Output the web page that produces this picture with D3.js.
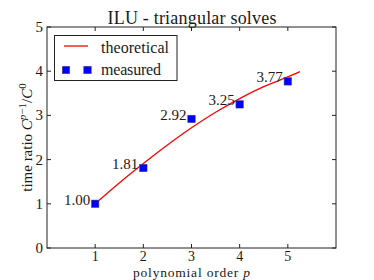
<!DOCTYPE html>
<html><head><meta charset="utf-8">
<script src="https://cdn.jsdelivr.net/npm/d3@7"></script>
<style>body{margin:0;background:#fff}svg{display:block}text{font-family:"Liberation Serif","DejaVu Serif",serif;fill:#1a1a1a}</style>
</head><body>
<script>
const orders = [1, 2, 3, 4, 5];
const measured = [1.00, 1.81, 2.92, 3.25, 3.77];
const measuredLabels = ["1.00", "1.81", "2.92", "3.25", "3.77"];
const theoryP = [1, 1.5, 2, 2.5, 3, 3.5, 4, 4.5, 5, 5.25];
const theoryR = [1, 1.47, 1.91, 2.33, 2.72, 3.07, 3.38, 3.65, 3.87, 3.99];
const xTicks = [1, 2, 3, 4, 5];
const yTicks = [0, 1, 2, 3, 4, 5];

const W = 374, H = 280;
const m = {l: 47, r: 38, t: 27, b: 32};
const svg = d3.select("body").append("svg").attr("width", W).attr("height", H);
const x = d3.scaleLinear().domain([0, 6]).range([m.l, W - m.r]);
const y = d3.scaleLinear().domain([0, 5]).range([H - m.b, m.t]);

// frame
svg.append("rect").attr("x", x(0)).attr("y", y(5)).attr("width", x(6) - x(0)).attr("height", y(0) - y(5))
  .attr("fill", "none").attr("stroke", "#222").attr("stroke-width", 1);

const tl = 4;
const g = svg.append("g");
xTicks.forEach(v => {
  g.append("line").attr("x1", x(v)).attr("x2", x(v)).attr("y1", y(0)).attr("y2", y(0) - tl).attr("stroke", "#222");
  g.append("line").attr("x1", x(v)).attr("x2", x(v)).attr("y1", y(5)).attr("y2", y(5) + tl).attr("stroke", "#222");
  g.append("text").attr("x", x(v)).attr("y", y(0) + 13).attr("text-anchor", "middle").attr("font-size", 14).text(v);
});
yTicks.forEach(v => {
  g.append("line").attr("x1", x(0)).attr("x2", x(0) + tl).attr("y1", y(v)).attr("y2", y(v)).attr("stroke", "#222");
  g.append("line").attr("x1", x(6)).attr("x2", x(6) - tl).attr("y1", y(v)).attr("y2", y(v)).attr("stroke", "#222");
  g.append("text").attr("x", x(0) - 4).attr("y", y(v) + 5).attr("text-anchor", "end").attr("font-size", 15).text(v);
});

// theoretical line
const line = d3.line().x((d, i) => x(theoryP[i])).y(d => y(d)).curve(d3.curveMonotoneX);
svg.append("path").datum(theoryR).attr("d", line).attr("fill", "none").attr("stroke", "#ff0000").attr("stroke-width", 1.3);

// measured squares
const s = 7.5;
svg.selectAll("rect.pt").data(measured).enter().append("rect").attr("class", "pt")
  .attr("x", (d, i) => x(orders[i]) - s / 2).attr("y", d => y(d) - s / 2)
  .attr("width", s).attr("height", s).attr("fill", "#0000ff").attr("stroke", "#555").attr("stroke-width", 0.5);
svg.selectAll("text.lbl").data(measured).enter().append("text").attr("class", "lbl")
  .attr("x", (d, i) => x(orders[i]) - 5).attr("y", d => y(d) + 1)
  .attr("text-anchor", "end").attr("font-size", 15).text((d, i) => measuredLabels[i]);

// title & axis labels
svg.append("text").attr("x", (x(0) + x(6)) / 2 + 0.5).attr("y", 24).attr("text-anchor", "middle").attr("font-size", 18)
  .attr("textLength", 169).attr("lengthAdjust", "spacing").text("ILU - triangular solves");
const xl = svg.append("text").attr("x", (x(0) + x(6)) / 2).attr("y", 276.5).attr("text-anchor", "middle").attr("font-size", 13.5)
  .attr("textLength", 117).attr("lengthAdjust", "spacing");
xl.append("tspan").text("polynomial order ");
xl.append("tspan").attr("font-style", "italic").text("p");
const yl = svg.append("text").attr("transform", `translate(31.5,${(y(0) + y(5)) / 2}) rotate(-90)`).attr("text-anchor", "middle").attr("font-size", 15);
yl.append("tspan").text("time ratio ");
yl.append("tspan").attr("font-style", "italic").text("C");
yl.append("tspan").attr("font-style", "italic").attr("font-size", 11).attr("dy", -6).text("p");
yl.append("tspan").attr("font-size", 11).text("−1");
yl.append("tspan").attr("dy", 6).text("/");
yl.append("tspan").attr("font-style", "italic").text("C");
yl.append("tspan").attr("font-size", 11).attr("dy", -6).text("0");

// legend
const lg = svg.append("g");
lg.append("rect").attr("x", 54.5).attr("y", 35.5).attr("width", 122.5).attr("height", 45).attr("fill", "#fff").attr("stroke", "#222");
lg.append("line").attr("x1", 64).attr("x2", 88).attr("y1", 46).attr("y2", 46).attr("stroke", "#ff0000").attr("stroke-width", 1.3);
[66, 87.5].forEach(cx => lg.append("rect").attr("x", cx - s / 2).attr("y", 70 - s / 2).attr("width", s).attr("height", s)
  .attr("fill", "#0000ff").attr("stroke", "#555").attr("stroke-width", 0.5));
lg.append("text").attr("x", 101).attr("y", 53).attr("font-size", 16).attr("textLength", 68).attr("lengthAdjust", "spacing").text("theoretical");
lg.append("text").attr("x", 101).attr("y", 75).attr("font-size", 16).attr("textLength", 60).attr("lengthAdjust", "spacing").text("measured");
</script>
</body></html>
